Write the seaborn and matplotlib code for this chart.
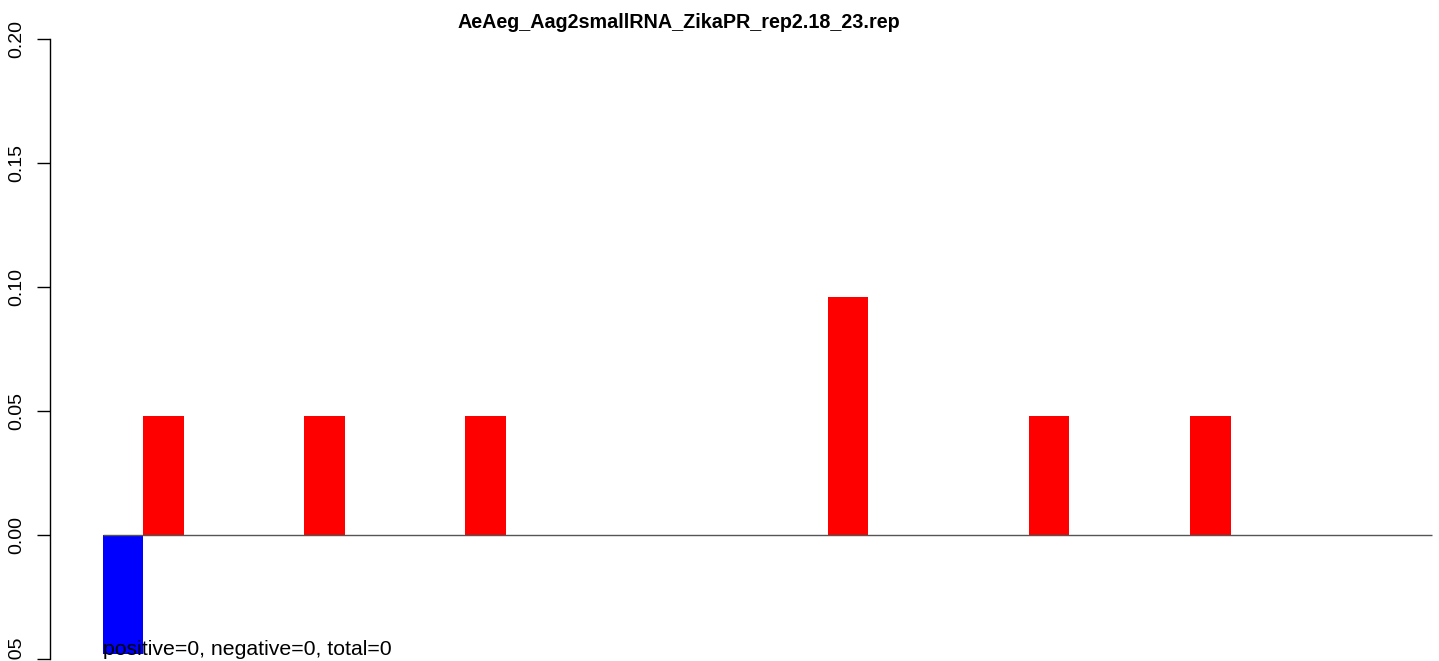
import numpy as np
import pandas as pd
import matplotlib
matplotlib.use("Agg")
import matplotlib.pyplot as plt
import seaborn as sns

# data
positions = [1, 2, 6, 10, 19, 24, 28]
values = [-0.048, 0.048, 0.048, 0.048, 0.096, 0.048, 0.048]
strand = ["negative", "positive", "positive", "positive", "positive", "positive", "positive"]
yticks = [-0.05, 0.00, 0.05, 0.10, 0.15, 0.20]
title = "AeAeg_Aag2smallRNA_ZikaPR_rep2.18_23.rep"
note = "positive=0, negative=0, total=0"

df = pd.DataFrame({"pos": positions, "value": values, "strand": strand})

sns.set_style("white")
plt.rcParams["font.family"] = ["Liberation Sans", "DejaVu Sans"]
plt.rcParams["text.color"] = "black"
plt.rcParams["ytick.color"] = "black"
plt.rcParams["ytick.labelcolor"] = "black"

W, H = 1439, 661
fig = plt.figure(figsize=(W / 100, H / 100), dpi=100)
# axes: left spine at x=50px, y range -0.05..0.20 from y=659px to 39px
ax = fig.add_axes([50 / W, 1 - 659 / H, 1 - 50 / W, (659 - 39) / H])

sns.barplot(data=df, x="pos", y="value", hue="strand", native_scale=True,
            palette={"negative": "#0000ff", "positive": "#ff0000"},
            dodge=False, width=1, saturation=1, legend=False, ax=ax,
            linewidth=0, zorder=2)

ax.hlines(0, 0.5, 33.5, color="#555555", linewidth=1, zorder=3)

px = 40.27  # pixels per position unit
ax.set_xlim(0.5 - 53 / px, 0.5 + (W - 103) / px)
ax.set_ylim(-0.05, 0.20)
ax.set_yticks(yticks)
ax.set_yticklabels([f"{v:.2f}" for v in yticks])
ax.set_xticks([])
ax.set_xlabel("")
ax.set_ylabel("")
for s in ["top", "right", "bottom"]:
    ax.spines[s].set_visible(False)
ax.spines["left"].set_color("black")
ax.spines["left"].set_linewidth(1)
ax.tick_params(axis="y", length=9.5, width=1, color="black", pad=8.5,
               labelsize=14, labelrotation=90, left=True, labelcolor="black")
for lab in ax.get_yticklabels():
    lab.set_verticalalignment("center")
ax.set_facecolor("white")

ax.text(0.5, -0.0485, note, fontsize=15.3, ha="left", va="baseline",
        color="black", zorder=4)

fig.text(679 / W, 1 - 22 / H, title, fontsize=14.2, fontweight="bold",
         ha="center", va="center", color="black")

fig.savefig("out.png", dpi=100, facecolor="white")
